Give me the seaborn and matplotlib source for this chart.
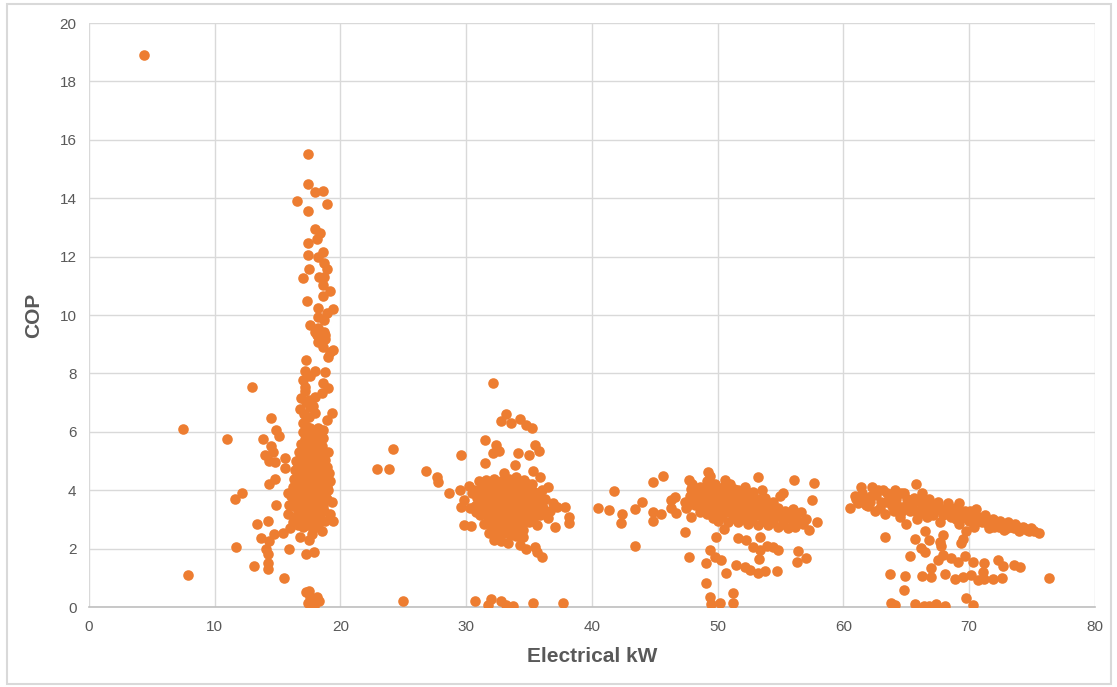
import pandas as pd
import numpy as np
import matplotlib.pyplot as plt
import seaborn as sns
from matplotlib.patches import Rectangle

# Pontos, agrupados por regiao (kW, COP)
outliers = [(4.4, 18.9), (7.5, 6.1), (7.9, 1.1), (11.0, 5.75), (11.6, 3.7), (11.7, 2.05),
            (12.2, 3.9), (12.95, 7.55), (13.1, 1.4), (13.4, 2.85), (22.9, 4.72), (23.9, 4.72),
            (24.15, 5.4), (25.0, 0.22), (76.4, 0.98)]

left_scatter = [(14.5, 6.46), (14.9, 6.06), (15.1, 5.86), (13.86, 5.74), (14.5, 5.5), (14.6, 5.3),
                (14.0, 5.2), (14.3, 5.0), (14.8, 4.95), (15.6, 5.1), (15.6, 4.75), (14.3, 4.2),
                (14.8, 4.4), (14.9, 3.5), (15.8, 3.9), (15.9, 3.5), (14.2, 2.95), (13.7, 2.35),
                (14.3, 2.25), (14.7, 2.5), (15.4, 2.55), (14.1, 2.0), (14.2, 1.8), (14.2, 1.5),
                (14.2, 1.3), (15.5, 1.0), (15.9, 2.0), (16.0, 2.7), (16.8, 2.4), (17.5, 2.3),
                (17.7, 2.5), (18.5, 2.6), (17.3, 1.8), (17.9, 1.9), (17.3, 0.5), (17.6, 0.35),
                (18.1, 0.35), (17.7, 0.2), (17.4, 0.15), (18.3, 0.2), (17.9, 0.05), (17.5, 0.55)]

column_top = [(17.44, 15.5), (17.44, 14.5), (17.97, 14.22), (18.58, 14.26), (16.57, 13.9),
              (18.9, 13.8), (17.44, 13.56), (17.97, 12.93), (18.4, 12.82), (18.1, 12.59),
              (17.44, 12.45), (17.44, 12.05), (18.24, 11.98), (18.59, 12.17), (18.69, 11.77),
              (18.9, 11.56), (17.52, 11.56), (17.0, 11.28), (18.29, 11.31), (18.69, 11.31),
              (18.6, 11.03), (19.16, 10.83), (18.58, 10.65), (17.36, 10.49), (18.24, 10.23),
              (19.43, 10.2), (18.9, 10.08), (18.24, 9.94), (18.69, 9.83), (17.57, 9.66),
              (18.24, 9.54), (18.69, 9.43), (18.1, 9.32), (18.5, 9.26), (18.77, 9.17),
              (17.97, 9.43), (18.77, 9.3), (18.23, 9.08), (18.6, 8.9), (19.15, 8.74),
              (19.4, 8.8), (19.0, 8.57), (17.3, 8.46), (17.2, 8.1), (17.97, 8.1), (18.77, 8.06),
              (17.04, 7.77), (17.2, 7.55), (18.6, 7.66), (19.0, 7.49), (18.5, 7.34),
              (16.9, 7.15), (17.3, 7.03), (16.8, 6.78), (17.6, 6.84), (17.97, 6.63),
              (19.3, 6.65), (18.9, 6.4), (17.6, 6.12), (18.2, 6.12), (18.6, 6.06), (17.3, 5.72),
              (17.0, 6.3), (17.5, 6.5), (17.8, 6.9), (17.2, 7.4), (17.6, 7.9), (18.0, 7.2),
              (17.1, 6.6), (17.5, 7.1), (17.3, 6.2)]

column_core = [(17.0, 6.0), (17.4, 5.9), (17.8, 5.95), (18.2, 5.85), (16.9, 5.6), (17.3, 5.6),
               (17.7, 5.5), (18.1, 5.6), (18.5, 5.5), (16.7, 5.3), (17.1, 5.25), (17.5, 5.3),
               (17.9, 5.2), (18.3, 5.3), (18.7, 5.2), (16.5, 5.0), (16.9, 4.95), (17.3, 5.0),
               (17.7, 4.9), (18.1, 5.0), (18.5, 4.9), (18.9, 4.8), (16.4, 4.7), (16.8, 4.65),
               (17.2, 4.7), (17.6, 4.6), (18.0, 4.7), (18.4, 4.6), (18.8, 4.5), (16.3, 4.4),
               (16.7, 4.35), (17.1, 4.4), (17.5, 4.3), (17.9, 4.4), (18.3, 4.3), (18.7, 4.2),
               (19.2, 4.3), (16.2, 4.1), (16.6, 4.05), (17.0, 4.1), (17.4, 4.0), (17.8, 4.1),
               (18.2, 4.0), (18.6, 3.9), (19.0, 4.0), (16.1, 3.8), (16.5, 3.75), (16.9, 3.8),
               (17.3, 3.7), (17.7, 3.8), (18.1, 3.7), (18.5, 3.6), (18.9, 3.7), (19.3, 3.6),
               (16.3, 3.45), (16.7, 3.4), (17.1, 3.5), (17.5, 3.4), (17.9, 3.5), (18.3, 3.35),
               (18.7, 3.3), (19.2, 3.2), (16.4, 3.1), (16.8, 3.15), (17.2, 3.05), (17.6, 3.1),
               (18.0, 3.0), (18.4, 3.05), (18.8, 2.95), (19.4, 2.95), (16.6, 2.8), (17.0, 2.75),
               (17.4, 2.8), (17.8, 2.7), (18.2, 2.75), (16.2, 2.9), (15.8, 3.2), (19.1, 4.6),
               (19.0, 5.3), (18.6, 5.8)]

column_fill = [(17.2, 5.75), (17.6, 5.7), (18.0, 5.75), (18.4, 5.65), (17.0, 5.45), (17.4, 5.45),
               (17.8, 5.4), (18.2, 5.4), (16.8, 5.1), (17.2, 5.1), (17.6, 5.1), (18.0, 5.1),
               (18.4, 5.1), (18.8, 5.05), (16.6, 4.85), (17.0, 4.8), (17.4, 4.85), (17.8, 4.8),
               (18.2, 4.8), (18.6, 4.75), (16.6, 4.55), (17.0, 4.55), (17.4, 4.5), (17.8, 4.55),
               (18.2, 4.5), (18.6, 4.45), (16.5, 4.25), (16.9, 4.25), (17.3, 4.2), (17.7, 4.25),
               (18.1, 4.2), (18.5, 4.2), (18.9, 4.15), (16.4, 3.95), (16.8, 3.95), (17.2, 3.9),
               (17.6, 3.95), (18.0, 3.9), (18.4, 3.85), (18.8, 3.85), (16.6, 3.6), (17.0, 3.6),
               (17.4, 3.55), (17.8, 3.6), (18.2, 3.55), (18.6, 3.45), (16.6, 3.3), (17.0, 3.3),
               (17.4, 3.25), (17.8, 3.3), (18.2, 3.2), (16.9, 2.95), (17.4, 2.95), (17.8, 2.9),
               (18.2, 2.9)]

mid_scatter = [(26.8, 4.66), (27.7, 4.44), (27.8, 4.29), (28.6, 3.89), (29.6, 5.2), (29.5, 4.0),
               (30.2, 4.14), (29.8, 3.66), (29.6, 3.43), (30.3, 3.38), (29.8, 2.81), (30.4, 2.77),
               (32.1, 7.66), (33.2, 6.61), (32.8, 6.38), (33.6, 6.31), (34.3, 6.43), (34.8, 6.23),
               (35.2, 6.14), (31.5, 5.72), (32.4, 5.55), (32.6, 5.35), (32.1, 5.26), (34.1, 5.28),
               (35.0, 5.2), (35.5, 5.55), (35.8, 5.35), (31.5, 4.94), (33.9, 4.86), (33.0, 4.58),
               (34.0, 4.46), (35.3, 4.67), (35.9, 4.46), (36.5, 4.12), (37.2, 3.43), (37.9, 3.43),
               (38.2, 3.09), (38.2, 2.87), (37.1, 2.75), (34.0, 2.43), (34.5, 2.41), (34.3, 2.12),
               (34.8, 2.0), (35.5, 2.06), (35.6, 1.89), (36.0, 1.72), (30.7, 0.22), (31.75, 0.07),
               (32.0, 0.26), (32.8, 0.22), (33.2, 0.07), (33.7, 0.03), (35.3, 0.13), (37.7, 0.13)]

mid_core = [(31.0, 4.3), (31.6, 4.35), (32.2, 4.4), (32.8, 4.3), (33.4, 4.4), (34.0, 4.3),
            (34.6, 4.35), (35.2, 4.2), (30.6, 4.0), (31.2, 4.05), (31.8, 4.0), (32.4, 4.1),
            (33.0, 4.0), (33.6, 4.1), (34.2, 4.0), (34.8, 4.05), (35.4, 3.95), (36.0, 4.0),
            (30.9, 3.75), (31.5, 3.7), (32.1, 3.8), (32.7, 3.7), (33.3, 3.75), (33.9, 3.7),
            (34.5, 3.8), (35.1, 3.7), (35.7, 3.75), (36.3, 3.7), (30.7, 3.45), (31.3, 3.4),
            (31.9, 3.5), (32.5, 3.4), (33.1, 3.45), (33.7, 3.4), (34.3, 3.5), (34.9, 3.4),
            (35.5, 3.45), (36.1, 3.4), (36.7, 3.3), (31.1, 3.15), (31.7, 3.1), (32.3, 3.2),
            (32.9, 3.1), (33.5, 3.15), (34.1, 3.1), (34.7, 3.2), (35.3, 3.1), (35.9, 3.15),
            (36.5, 3.05), (31.4, 2.85), (32.0, 2.8), (32.6, 2.9), (33.2, 2.8), (33.8, 2.85),
            (34.4, 2.8), (35.0, 2.9), (35.6, 2.8), (31.8, 2.55), (32.4, 2.5), (33.0, 2.55),
            (33.5, 2.45), (34.0, 2.6), (32.2, 2.3), (32.8, 2.25), (33.3, 2.2), (30.5, 3.9),
            (31.0, 3.6), (36.9, 3.55), (30.8, 3.25)]

mid_fill = [(31.3, 4.2), (31.9, 4.2), (32.5, 4.25), (33.1, 4.2), (33.7, 4.25), (34.3, 4.15),
            (34.9, 4.2), (30.9, 3.9), (31.5, 3.9), (32.1, 3.95), (32.7, 3.9), (33.3, 3.9),
            (33.9, 3.95), (34.5, 3.9), (35.1, 3.9), (35.7, 3.9), (31.2, 3.55), (31.8, 3.6),
            (32.4, 3.6), (33.0, 3.6), (33.6, 3.55), (34.2, 3.6), (34.8, 3.6), (35.4, 3.6),
            (36.0, 3.55), (31.4, 3.3), (32.0, 3.3), (32.6, 3.25), (33.2, 3.3), (33.8, 3.3),
            (34.4, 3.3), (35.0, 3.25), (35.6, 3.3), (36.2, 3.25), (31.7, 2.95), (32.3, 3.0),
            (32.9, 2.95), (33.5, 3.0), (34.1, 2.95), (34.7, 2.95), (35.3, 2.95), (32.1, 2.65),
            (32.7, 2.7), (33.3, 2.65), (33.9, 2.7), (34.5, 2.65)]

fifty_scatter = [(40.5, 3.4), (41.4, 3.32), (41.8, 3.98), (42.4, 3.2), (42.3, 2.87), (43.4, 3.35),
                 (44.0, 3.61), (43.4, 2.09), (44.9, 4.29), (45.7, 4.49), (44.9, 3.26), (44.9, 2.96),
                 (45.5, 3.18), (46.3, 3.66), (46.6, 3.76), (46.3, 3.38), (46.7, 3.23), (47.4, 3.61),
                 (47.7, 4.35), (47.9, 4.03), (47.5, 3.38), (47.9, 3.09), (47.4, 2.58), (47.7, 1.7),
                 (49.1, 1.5), (49.1, 0.83), (49.25, 4.63), (49.4, 0.35), (49.5, 0.1), (50.2, 0.13),
                 (51.2, 0.49), (51.2, 0.13), (49.4, 1.95), (49.8, 1.72), (50.3, 1.61), (50.7, 1.17),
                 (49.9, 2.41), (50.5, 2.66), (51.6, 2.35), (52.3, 2.3), (52.8, 2.07), (53.4, 1.95),
                 (53.9, 2.09), (54.4, 2.07), (54.8, 1.95), (53.4, 2.41), (51.5, 1.44), (52.2, 1.38),
                 (52.6, 1.27), (53.2, 1.15), (53.8, 1.24), (54.7, 1.24), (53.3, 1.63), (56.4, 1.93),
                 (57.0, 1.67), (56.3, 1.55), (53.2, 4.44), (56.1, 4.35), (57.7, 4.24), (57.5, 3.66),
                 (57.9, 2.92), (55.2, 3.91)]

fifty_core = [(48.0, 4.2), (48.6, 4.1), (49.2, 4.3), (49.8, 4.2), (50.4, 4.1), (51.0, 4.2),
              (51.6, 4.0), (52.2, 4.1), (52.8, 3.95), (47.8, 3.8), (48.4, 3.85), (49.0, 3.9),
              (49.6, 3.8), (50.2, 3.9), (50.8, 3.8), (51.4, 3.85), (52.0, 3.75), (52.6, 3.8),
              (53.2, 3.7), (53.8, 3.75), (54.4, 3.6), (48.2, 3.5), (48.8, 3.55), (49.4, 3.5),
              (50.0, 3.6), (50.6, 3.5), (51.2, 3.55), (51.8, 3.45), (52.4, 3.5), (53.0, 3.4),
              (53.6, 3.45), (54.2, 3.35), (54.8, 3.4), (55.4, 3.3), (56.0, 3.35), (56.6, 3.25),
              (48.6, 3.25), (49.2, 3.2), (49.8, 3.3), (50.4, 3.2), (51.0, 3.25), (51.6, 3.15),
              (52.2, 3.2), (52.8, 3.1), (53.4, 3.15), (54.0, 3.05), (54.6, 3.1), (55.2, 3.0),
              (55.8, 3.05), (56.4, 2.95), (57.0, 3.0), (50.0, 2.95), (50.8, 2.9), (51.6, 2.9),
              (52.4, 2.85), (53.2, 2.8), (54.0, 2.8), (54.8, 2.75), (55.6, 2.7), (56.2, 2.75),
              (49.4, 4.5), (49.0, 4.0), (50.6, 4.35), (53.5, 4.0), (55.0, 3.8), (47.6, 3.45),
              (57.3, 2.65)]

fifty_fill = [(48.3, 4.0), (48.9, 4.05), (49.5, 4.05), (50.1, 4.0), (50.7, 4.0), (51.3, 4.05),
              (51.9, 3.9), (52.5, 3.9), (48.1, 3.65), (48.7, 3.7), (49.3, 3.65), (49.9, 3.7),
              (50.5, 3.65), (51.1, 3.7), (51.7, 3.6), (52.3, 3.65), (52.9, 3.6), (53.5, 3.55),
              (54.1, 3.5), (48.9, 3.4), (49.5, 3.35), (50.1, 3.4), (50.7, 3.35), (51.3, 3.4),
              (51.9, 3.3), (52.5, 3.3), (53.1, 3.25), (53.7, 3.3), (54.3, 3.2), (54.9, 3.25),
              (55.5, 3.15), (56.1, 3.2), (49.6, 3.05), (50.2, 3.1), (51.2, 3.05), (52.0, 3.0),
              (52.6, 2.95), (53.6, 2.95), (54.4, 2.9), (55.2, 2.85), (56.0, 2.85), (56.8, 2.85)]

seventy_scatter = [(63.3, 2.41), (65.7, 2.32), (65.3, 1.75), (66.2, 2.01), (66.5, 1.89),
                   (67.7, 2.24), (67.8, 2.09), (67.5, 1.61), (67.9, 1.78), (69.4, 2.18),
                   (69.5, 2.32), (68.6, 1.67), (69.1, 1.55), (69.7, 1.75), (70.3, 1.55),
                   (71.2, 1.52), (72.3, 1.61), (72.7, 1.4), (73.6, 1.44), (74.1, 1.36),
                   (67.0, 1.33), (67.0, 1.04), (66.3, 1.06), (64.9, 1.06), (63.7, 1.13),
                   (64.8, 0.58), (68.1, 1.13), (68.9, 0.95), (69.5, 1.04), (70.2, 1.1),
                   (70.7, 0.92), (71.2, 0.95), (71.9, 0.95), (72.6, 0.98), (71.1, 1.21),
                   (69.8, 0.3), (70.3, 0.07), (63.8, 0.13), (64.1, 0.07), (65.7, 0.09),
                   (66.4, 0.04), (66.8, 0.04), (67.4, 0.1), (68.1, 0.03)]

seventy_band = [(60.5, 3.4), (61.0, 3.7), (61.5, 3.9), (61.8, 3.5), (62.2, 3.8), (62.5, 3.3),
                (62.8, 4.0), (63.0, 3.6), (63.3, 3.2), (63.6, 3.85), (63.9, 3.45), (64.2, 3.7),
                (64.5, 3.1), (64.8, 3.9), (65.0, 3.5), (65.3, 3.3), (65.6, 3.75), (65.9, 3.0),
                (66.2, 3.55), (66.5, 3.35), (66.8, 3.7), (67.1, 3.15), (67.4, 3.5), (67.7, 2.9),
                (68.0, 3.3), (68.3, 3.55), (68.6, 3.1), (68.9, 3.4), (69.2, 2.85), (69.5, 3.25),
                (69.8, 3.05), (70.1, 3.3), (70.4, 2.75), (70.7, 3.1), (71.0, 2.9), (71.3, 3.15),
                (71.6, 2.7), (71.9, 3.0), (72.2, 2.85), (72.5, 2.95), (72.8, 2.65), (73.1, 2.9),
                (73.4, 2.75), (73.7, 2.85), (74.0, 2.6), (74.3, 2.75), (74.6, 2.65), (74.9, 2.7),
                (75.2, 2.6), (75.6, 2.55), (62.0, 3.45), (63.5, 3.9), (64.0, 3.3), (65.5, 3.45),
                (66.0, 3.2), (67.0, 3.4), (67.5, 3.6), (68.5, 3.2), (69.0, 3.0), (70.0, 2.95),
                (71.5, 2.85), (72.0, 2.75), (73.0, 2.7), (60.9, 3.8), (61.4, 4.1), (62.3, 4.1),
                (63.2, 4.0), (64.1, 4.0), (64.6, 3.9), (65.8, 4.2), (66.3, 3.9), (69.2, 3.55),
                (70.6, 3.35), (65.0, 2.85), (66.5, 2.6), (67.9, 2.45), (69.8, 2.6), (66.8, 2.3)]

seventy_fill = [(61.2, 3.55), (61.7, 3.7), (62.1, 3.6), (62.6, 3.85), (62.9, 3.4), (63.4, 3.6),
                (63.8, 3.7), (64.3, 3.5), (64.7, 3.3), (65.1, 3.7), (65.4, 3.55), (65.8, 3.3),
                (66.1, 3.7), (66.4, 3.45), (66.7, 3.1), (67.2, 3.3), (67.6, 3.35), (67.9, 3.15),
                (68.2, 3.4), (68.7, 3.3), (69.0, 3.2), (69.4, 3.1), (69.7, 3.3), (70.0, 3.1),
                (70.3, 3.0), (70.8, 2.95), (71.1, 3.05), (71.4, 2.95), (71.8, 2.85), (72.1, 2.95),
                (72.4, 2.75), (72.7, 2.85), (73.3, 2.8), (73.6, 2.7), (73.9, 2.75), (74.4, 2.7),
                (74.8, 2.6), (75.0, 2.65)]

x_ticks = [0, 10, 20, 30, 40, 50, 60, 70, 80]
y_ticks = [0, 2, 4, 6, 8, 10, 12, 14, 16, 18, 20]

pontos = (outliers + left_scatter + column_top + column_core + column_fill
          + mid_scatter + mid_core + mid_fill + fifty_scatter + fifty_core + fifty_fill
          + seventy_scatter + seventy_band + seventy_fill)
base = pd.DataFrame(pontos, columns=['kW', 'COP'])

sns.set_style('white')
plt.rcParams['font.family'] = ['Liberation Sans Narrow', 'Liberation Sans', 'DejaVu Sans']

fig = plt.figure(figsize=(11.17, 6.87), dpi=100)
ax = fig.add_axes([0.0797, 0.1164, 0.9003, 0.8501])

sns.scatterplot(data=base, x='kW', y='COP', color='#ED7D31', s=58, linewidth=0, ax=ax, zorder=3)

ax.set_xlim(0, 80)
ax.set_ylim(0, 20)
ax.set_xticks(x_ticks)
ax.set_yticks(y_ticks)
ax.grid(True, color='#D9D9D9', linewidth=1.0, zorder=0)
ax.set_axisbelow(True)
for lado in ['left', 'top', 'right']:
    ax.spines[lado].set_visible(False)
ax.spines['bottom'].set_color('#BFBFBF')
ax.spines['bottom'].set_linewidth(1.2)
ax.tick_params(axis='both', length=0, labelsize=11, labelcolor='#595959', pad=9)

ax.set_xlabel('Electrical kW', fontsize=15, fontweight='bold', color='#595959', labelpad=10)
ax.set_ylabel('COP', fontsize=15, fontweight='bold', color='#595959', labelpad=12)

# borda cinza do grafico (estilo Excel)
fig.patches.append(Rectangle((0.006, 0.004), 0.989, 0.99, transform=fig.transFigure,
                             fill=False, edgecolor='#D9D9D9', linewidth=1.5))

fig.savefig('out.png', dpi=100)
